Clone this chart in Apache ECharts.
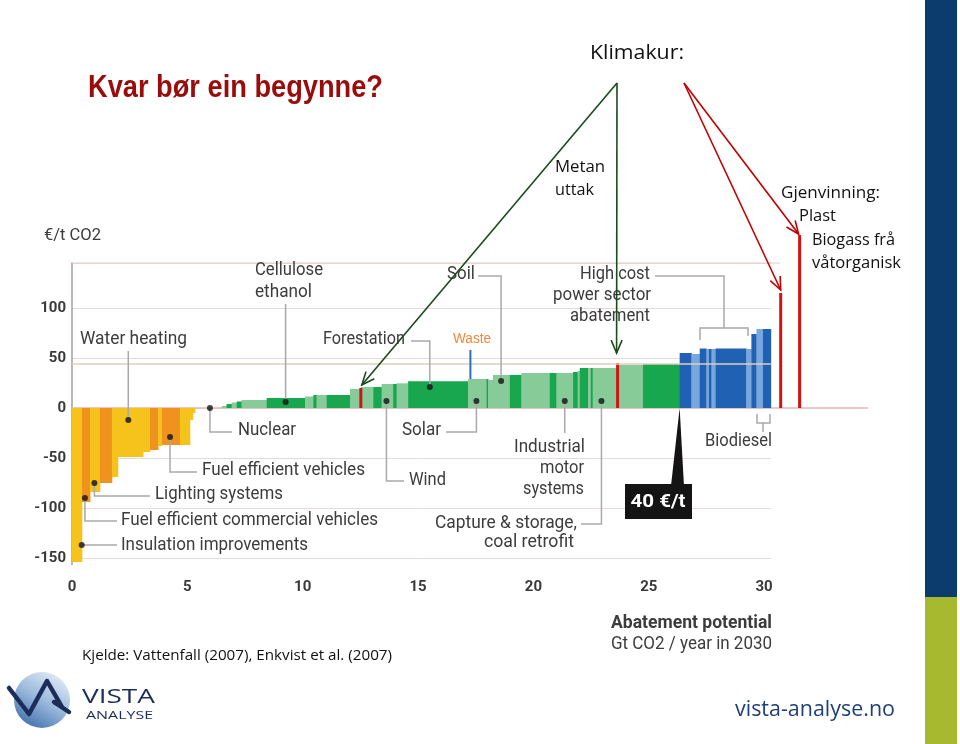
<!DOCTYPE html>
<html><head><meta charset="utf-8">
<script src="https://cdn.jsdelivr.net/npm/echarts@6/dist/echarts.min.js"></script>
<style>html,body{margin:0;padding:0;background:#fff}#c{width:960px;height:744px}</style>
</head><body><div id="c"></div>
<script>
// ---------- DATA ----------
// abatement potential of each measure (Gt CO2 / year in 2030), left to right
const potential = [
  0.43,0.35,0.43,0.52,0.26,1.09,0.30,0.35,0.17,0.78,0.43,0.13,0.09,
  1.16,
  0.21,0.22,0.22,0.21,1.09,1.66,0.36,0.14,0.44,1.01,0.47,0.54,0.36,0.50,0.15,0.50,2.60,
  0.80,0.07,0.21,0.73,0.50,1.23,0.29,0.72,0.20,0.09,0.36,0.12,0.08,1.08,1.10,1.59,
  0.51,0.36,0.29,0.11,0.11,0.18,1.33,0.22,0.22,0.28,0.34
];
// abatement cost (€/t CO2)
const cost = [
  -154,-94,-84,-75,-69,-49,-44,-42,-38,-37,-37,-12,-5,
  0,
  2,4,5.5,6.5,8,10,11.5,13,13,13,19,21,21,24,24,24.7,26.7,
  29,29,28,33,33,35,35,35,36,37,40,40,40,40,43,44,
  55,54,59.5,59,59,59,59.5,59,74,79,79
];
// sector shade key
const shade = [
  'Y','O','Y','O','Y','Y','Y','O','Y','O','Y','Y','Y',
  'N',
  'L','D','L','D','L','D','L','D','L','D','L','L','D','L','D','L','D',
  'L','D','L','L','D','L','D','L','D','L','D','L','D','L','L','D',
  'B','b','B','b','B','b','B','b','B','b','B'
];
// labelled measures (dots)
const dotNames = ['Insulation improvements','Fuel efficient commercial vehicles','Lighting systems','Water heating',
  'Fuel efficient vehicles','Nuclear','Cellulose ethanol','Wind','Forestation','Solar','Soil',
  'Industrial motor systems','Capture & storage, coal retrofit'];
const dotPotential = [0.42,0.56,0.97,2.44,4.25,5.98,9.26,13.63,15.51,17.53,18.6,21.36,22.95];
const dotCost = [-137,-90,-75,-12,-29,0,6,7,21,7,27,7,7];
// Klimakur markers (red)
const klimakurNames = ['Metan uttak','Metan uttak','Biogass frå våtorganisk','Gjenvinning: Plast'];
const klimakurX = [12.52, 23.65, 30.72, 31.54];
const klimakurCost = [20, 45, 115, 173];
// waste marker
const wasteX = 17.27, wasteFrom = 29, wasteTo = 58;
// 40 €/t line
const thresholdCost = 44;
const thresholdX = 26.34;
const xTicks = [0,5,10,15,20,25,30];
const yTicks = [-150,-100,-50,0,50,100];

// ---------- STYLE ----------
const shadeColors = {Y:'#f6c21c', O:'#f0921e', L:'#86cb98', D:'#18a64f', B:'#2161b3', b:'#78a7de', N:'rgba(0,0,0,0)'};
const LF = 'Roboto, "Liberation Sans", sans-serif';
const CAL = '"Open Sans", "Noto Sans", sans-serif';

let acc = 0;
const barData = potential.map((w,i)=>{ const d=[acc, acc+w, cost[i], i]; acc+=w; return d; });

const chart = echarts.init(document.getElementById('c'), null, {renderer:'canvas', width:960, height:744});

const option = {
  animation:false,
  backgroundColor:'#ffffff',
  grid:{left:72, right:189, top:263, bottom:186, containLabel:false},
  xAxis:{type:'value', min:0, max:30.3, interval:5,
    axisLine:{show:false}, axisTick:{show:false}, splitLine:{show:false},
    axisLabel:{margin:22, color:'#3a3a3a', fontWeight:'bold', fontSize:15, fontFamily:LF,
      formatter:v=> xTicks.indexOf(v)>=0 ? String(v) : ''}},
  yAxis:{type:'value', min:-150, max:145, interval:50,
    axisLine:{show:true, lineStyle:{color:'#a0a0a0', width:1.5}}, axisTick:{show:false},
    splitLine:{show:true, lineStyle:{color:'#ead9d9', width:1}},
    axisLabel:{margin:6, color:'#3a3a3a', fontWeight:'bold', fontSize:15, fontFamily:LF,
      formatter:v=> yTicks.indexOf(v)>=0 ? String(v) : ''}},
  series:[
    {type:'custom', name:'measures', z:2, data:barData,
      renderItem:(params, api)=>{
        const x0=api.value(0), x1=api.value(1), v=api.value(2);
        const p0=api.coord([x0,0]), p1=api.coord([x1,v]);
        return {type:'rect', shape:{x:p0[0], y:Math.min(p0[1],p1[1]), width:p1[0]-p0[0]+0.4, height:Math.abs(p1[1]-p0[1])},
          style:{fill:shadeColors[shade[api.value(3)]]}};
      }},
    {type:'custom', name:'klimakur', z:4, clip:false,
      data:klimakurX.map((x,i)=>[x, klimakurCost[i]]),
      renderItem:(params, api)=>{
        const p0=api.coord([api.value(0),0]), p1=api.coord([api.value(0),api.value(1)]);
        return {type:'rect', shape:{x:p0[0]-1.5, y:p1[1], width:3, height:p0[1]-p1[1]}, style:{fill:'#d01414'}};
      }},
    {type:'scatter', name:'dots', z:10, symbolSize:6, itemStyle:{color:'#111'},
      data:dotPotential.map((x,i)=>[x, dotCost[i]])}
  ]
};
chart.setOption(option);

// ---------- ANNOTATIONS ----------
const P = (x,y)=>chart.convertToPixel({gridIndex:0},[x,y]);
const dot = name=>{ const i=dotNames.indexOf(name); return P(dotPotential[i], dotCost[i]); };
const mctx = document.createElement('canvas').getContext('2d');
const g = [];
function T(x,y,text,font,targetW,opt){
  opt = opt||{};
  mctx.font = font;
  const w = mctx.measureText(text).width;
  const sx = targetW ? targetW/w : 1;
  g.push({type:'text', x:x, y:y, scaleX:sx, z:opt.z||20, silent:true,
    style:{text:text, font:font, fill:opt.fill||'#3c3c3c', align:opt.align||'left', textAlign:opt.align||'left',
      verticalAlign:'middle', textVerticalAlign:'middle'}});
}
function L(pts,color,w,z){ g.push({type:'polyline', z:z||5, silent:true, shape:{points:pts}, style:{stroke:color||'#a9a9a9', lineWidth:w||1.5, fill:null}}); }
function arrow(from,to,color){
  L([from,to],color,1.6,30);
  const dx=to[0]-from[0], dy=to[1]-from[1], len=Math.hypot(dx,dy), ux=dx/len, uy=dy/len, h=14, a=0.4;
  const c=Math.cos(a), s=Math.sin(a);
  const p1=[to[0]-h*(ux*c-uy*s), to[1]-h*(uy*c+ux*s)];
  const p2=[to[0]-h*(ux*c+uy*s), to[1]-h*(uy*c-ux*s)];
  L([p1,to,p2],color,1.6,30);
}
const LFONT = '18px '+LF;

// reference lines
L([P(0,0), P(34.5,0)], '#e8b4b4', 1.5, 1);
L([P(0,145), P(30.7,145)], '#e6cccc', 1.2, 1);
L([P(0,-150), P(0,-157)], '#a0a0a0', 1.5, 1);
L([P(0,thresholdCost), P(30.29,thresholdCost)], 'rgba(226,205,185,0.75)', 2, 4);

// callouts
let d;
d=dot('Water heating'); T(80,339,'Water heating',LFONT,107); L([[d[0],351],d]);
d=dot('Cellulose ethanol'); T(255,270,'Cellulose',LFONT,68); T(255,292,'ethanol',LFONT,57); L([[d[0],304],d]);
d=dot('Forestation'); T(323,339,'Forestation',LFONT,82); L([[411,341],[d[0],341],d]);
d=dot('Soil'); T(447,274,'Soil',LFONT,28); L([[478,276],[d[0],276],d]);
T(650,274,'High cost',LFONT,70,{align:'right'}); T(651,295,'power sector',LFONT,98,{align:'right'}); T(650,316,'abatement',LFONT,80,{align:'right'});
L([[655,276],[724,276],[724,328]]); L([[700,340],[700,328],[748,328],[748,336]]);
d=dot('Nuclear'); T(238,430,'Nuclear',LFONT,58); L([d,[d[0],432],[232,432]]);
d=dot('Fuel efficient vehicles'); T(202,470,'Fuel efficient vehicles',LFONT,163); L([d,[d[0],472],[197,472]]);
d=dot('Lighting systems'); T(155,494,'Lighting systems',LFONT,128); L([d,[d[0],496],[150,496]]);
d=dot('Fuel efficient commercial vehicles'); T(121,520,'Fuel efficient commercial vehicles',LFONT,257); L([d,[d[0],521],[117,521]]);
d=dot('Insulation improvements'); T(121,545,'Insulation improvements',LFONT,187); L([d,[117,d[1]]]);
d=dot('Solar'); T(402,430,'Solar',LFONT,39); L([[446,432],[d[0],432],d]);
d=dot('Wind'); T(409,480,'Wind',LFONT,37); L([d,[d[0],481],[404,481]]);
d=dot('Industrial motor systems'); T(585,447,'Industrial',LFONT,71,{align:'right'}); T(584,468,'motor',LFONT,44,{align:'right'}); T(584,489,'systems',LFONT,61,{align:'right'}); L([d,[d[0],433]]);
d=dot('Capture & storage, coal retrofit'); T(577,523,'Capture & storage,',LFONT,142,{align:'right'}); T(574,542,'coal retrofit',LFONT,90,{align:'right'}); L([[581,524],[d[0],524],d]);
T(705,441,'Biodiesel',LFONT,67); L([[757,414],[757,423],[770,423],[770,414]]); L([[763,423],[763,432]]);
T(453,339,'Waste','14px "Liberation Sans", Arial, sans-serif',38,{fill:'#f0883a'});
L([P(wasteX,wasteTo),P(wasteX,wasteFrom)],'#2a6fc0',2,6);

// 40 €/t box
const tip = P(thresholdX,0);
g.push({type:'polygon', z:20, silent:true, shape:{points:[[671,486],[684,486],tip]}, style:{fill:'#141414'}});
g.push({type:'rect', z:20, silent:true, shape:{x:625,y:484,width:67,height:35}, style:{fill:'#141414'}});
T(658,502,'40 €/t','bold 18px '+LF,55,{align:'center', fill:'#ffffff', z:21});

// axis titles
T(44,236,'€/t CO2','17px '+LF,57);
T(772,623,'Abatement potential','bold 18px '+LF,161,{align:'right'});
T(772,644,'Gt CO2 / year in 2030','18px '+LF,161,{align:'right'});

// slide texts
T(88,88,'Kvar bør ein begynne?','bold 31px "Liberation Sans", Arial, sans-serif',295,{fill:'#9a0c0c'});
T(590,53,'Klimakur:','20px '+CAL,94,{fill:'#111'});
T(555,167,'Metan','16px '+CAL,50,{fill:'#111'});
T(555,190,'uttak','16px '+CAL,39,{fill:'#111'});
T(781,193,'Gjenvinning:','16px '+CAL,99,{fill:'#111'});
T(799,216,'Plast','16px '+CAL,37,{fill:'#111'});
T(812,240,'Biogass frå','16px '+CAL,83,{fill:'#111'});
T(812,263,'våtorganisk','16px '+CAL,89,{fill:'#111'});
T(82,656,'Kjelde: Vattenfall (2007), Enkvist et al. (2007)','15px '+CAL,310,{fill:'#111'});
T(735,710,'vista-analyse.no','21px '+CAL,160,{fill:'#1f3f77'});

// arrows
const apexG=[617,83], apexR=[684,83];
let m = P(klimakurX[0],klimakurCost[0]); arrow(apexG,[m[0]+1,m[1]-3],'#1b4a1b');
m = P(klimakurX[1],klimakurCost[1]); arrow(apexG,[m[0]-1,m[1]-10],'#1b4a1b');
m = P(klimakurX[3],klimakurCost[3]); arrow(apexR,[m[0]-1,m[1]-1],'#c00000');
m = P(klimakurX[2],klimakurCost[2]); arrow(apexR,[m[0],m[1]-3],'#c00000');

// side bar
g.push({type:'rect', z:0, silent:true, shape:{x:925,y:0,width:32,height:597}, style:{fill:'#0c3c6e'}});
g.push({type:'rect', z:0, silent:true, shape:{x:925,y:597,width:32,height:147}, style:{fill:'#a7b92e'}});

// logo
g.push({type:'circle', z:20, silent:true, shape:{cx:42,cy:700,r:28},
  style:{fill:new echarts.graphic.LinearGradient(0.8,0,0.2,1,[{offset:0,color:'#e6eef8'},{offset:0.5,color:'#9ab8dc'},{offset:1,color:'#3d6ea8'}])}});
g.push({type:'polyline', z:21, silent:true, shape:{points:[[9,688],[29,714],[47,681],[62,707],[54,702],[69,712]]},
  style:{stroke:'#1c2d5a', lineWidth:4.5, fill:null, lineJoin:'round', lineCap:'round'}});
T(82,697,'VISTA','20px '+CAL,73,{fill:'#1c2d5a'});
T(86,716,'ANALYSE','11px '+CAL,67,{fill:'#1c2d5a'});

chart.setOption({graphic:{elements:g}});
</script>
</body></html>
